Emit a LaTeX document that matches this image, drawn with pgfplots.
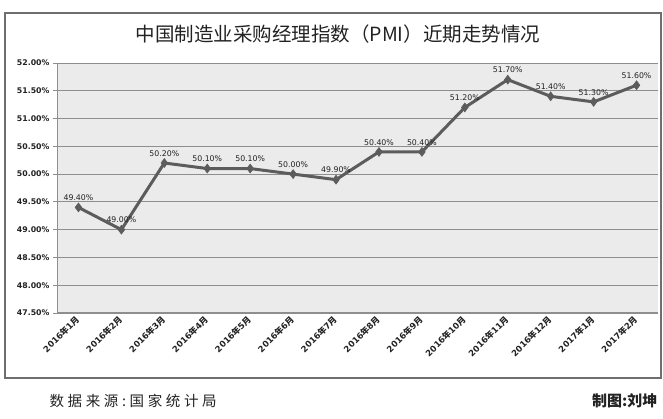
\documentclass[border=0pt]{standalone}
\usepackage{pgfplots}
\pgfplotsset{compat=1.18}
\usepackage{fontspec}
\setmainfont{DejaVu Sans}
\newfontfamily\cjk{Noto Sans CJK SC}
\definecolor{linec}{HTML}{5C5C5C}
\definecolor{framec}{HTML}{6E6E6E}
\definecolor{gridc}{HTML}{8E8E8E}
\definecolor{bgc}{HTML}{EBEBEB}
\definecolor{txtc}{HTML}{222222}
\newcommand\ym[2]{#1{\cjk\bfseries 年}#2{\cjk\bfseries 月}}
\begin{document}
\begin{tikzpicture}
\path[use as bounding box] (0pt,0pt) rectangle (663pt,419pt);
\draw[color=framec, line width=1.2pt] (5pt,41pt) rectangle (661pt,406pt);
\node[font=\cjk\fontsize{19.5}{22}\selectfont, text=txtc] at (338pt,385pt) {中国制造业采购经理指数（PMI）近期走势情况};
\begin{axis}[
  at={(57pt,106pt)}, anchor=south west,
  scale only axis, width=601pt, height=250pt,
  xmin=-0.5, xmax=13.5, ymin=47.5, ymax=52,
  axis lines*=left,
  axis line style={color=gridc, line width=1pt},
  axis background/.style={fill=bgc},
  ytick={47.5,48,...,52},
  ymajorgrids, major grid style={color=gridc, line width=0.9pt},
  tick align=outside,
  major tick length=4pt,
  tick style={color=gridc, line width=0.9pt},
  /pgf/number format/assume math mode=true,
  yticklabel={\pgfmathprintnumber[fixed,fixed zerofill,precision=2]{\tick}\%},
  y tick label style={font=\bfseries\fontsize{7.8}{9}\selectfont, text=txtc},
  xtick={0,...,13},
  x tick style={draw=none},
  extra x ticks={0.5,1.5,...,12.5},
  extra x tick labels={},
  extra x tick style={tick style={draw=gridc, line width=0.9pt}},
  xticklabels={\ym{2016}{1},\ym{2016}{2},\ym{2016}{3},\ym{2016}{4},\ym{2016}{5},\ym{2016}{6},\ym{2016}{7},\ym{2016}{8},\ym{2016}{9},\ym{2016}{10},\ym{2016}{11},\ym{2016}{12},\ym{2017}{1},\ym{2017}{2}},
  x tick label style={rotate=45, anchor=east, font=\bfseries\fontsize{8.5}{9}\selectfont, text=txtc, inner sep=1pt},
  nodes near coords={\pgfmathprintnumber[fixed,fixed zerofill,precision=2]{\pgfplotspointmeta}\%},
  every node near coord/.append style={font=\fontsize{7.8}{9}\selectfont, text=txtc, yshift=3pt},
  clip=false,
]
\addplot[color=linec, line width=3pt, mark=diamond*, mark size=4.5pt, mark options={fill=linec, line width=0.5pt}]
coordinates {(0,49.4) (1,49.0) (2,50.2) (3,50.1) (4,50.1) (5,50.0) (6,49.9) (7,50.4) (8,50.4) (9,51.2) (10,51.7) (11,51.4) (12,51.3) (13,51.6)};
\end{axis}
\node[anchor=west, font=\cjk\fontsize{14.5}{16}\selectfont\addfontfeature{LetterSpace=25}, text=txtc] at (46pt,18pt) {数据来源:国家统计局};
\node[anchor=east, font=\cjk\bfseries\fontsize{15}{17}\selectfont, text=txtc] at (661pt,18pt) {制图:刘坤};
\end{tikzpicture}
\end{document}
